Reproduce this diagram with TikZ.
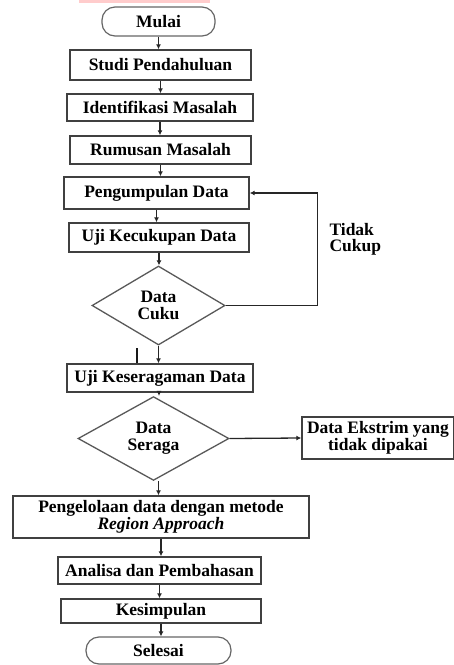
\documentclass[tikz,border=0pt]{standalone}
\usepackage{fontspec}
\setmainfont{Liberation Serif}
\usepackage{tikz}
\usepackage{xcolor}
\usetikzlibrary{arrows.meta,positioning,shapes.geometric,calc}

\begin{document}
\begin{tikzpicture}[
    x=1pt, y=-1pt,
    proses/.style={rectangle, draw=black!75, line width=1.4pt, fill=white, inner sep=1pt, align=center, font=\fontsize{17.5}{17}\selectfont\bfseries},
    terminal/.style={rectangle, draw=black!60, line width=1.2pt, rounded corners=13pt, fill=white, align=center, font=\fontsize{17.5}{17}\selectfont\bfseries},
    keputusan/.style={diamond, draw=black!65, line width=1.3pt, fill=white, inner sep=0pt, align=center, font=\fontsize{17.5}{17}\selectfont\bfseries},
    ket/.style={align=left, font=\fontsize{17.5}{16}\selectfont\bfseries},
    arrow/.style={-{Latex[length=5pt,width=5pt]}, line width=1.3pt, draw=black!85}
]
\useasboundingbox (0,0) rectangle (454,665);

% Sisa sorotan di atas
\fill[red!20] (79,0) rectangle (210,2.5);

% Terminal
\node[terminal, minimum width=113pt, minimum height=29pt] (mulai) at (158.5, 21.5) {Mulai};
\node[terminal, minimum width=145pt, minimum height=27pt] (selesai) at (158.5, 650.5) {Selesai};

% Proses
\node[proses, minimum width=181pt, minimum height=30pt] (studi) at (160.5, 65) {Studi Pendahuluan};
\node[proses, minimum width=186pt, minimum height=27pt] (identifikasi) at (160, 107.5) {Identifikasi Masalah};
\node[proses, minimum width=181pt, minimum height=28pt] (rumusan) at (160.5, 150) {Rumusan Masalah};
\node[proses, minimum width=185pt, minimum height=32pt] (kumpul) at (156.5, 193) {Pengumpulan Data};
\node[proses, minimum width=180pt, minimum height=29pt] (ujicukup) at (159, 237.5) {Uji Kecukupan Data};
\node[proses, minimum width=186pt, minimum height=28pt] (ujiseragam) at (160, 378) {Uji Keseragaman Data};
\node[proses, minimum width=152pt, minimum height=42pt] (ekstrim) at (378, 438) {Data Ekstrim yang\\tidak dipakai};
\node[proses, minimum width=296pt, minimum height=42pt] (olah) at (161, 517) {Pengelolaan data dengan metode\\\textit{Region Approach}};
\node[proses, minimum width=203pt, minimum height=27pt] (analisa) at (159.5, 570.5) {Analisa dan Pembahasan};
\node[proses, minimum width=200pt, minimum height=24pt] (simpul) at (161, 611) {Kesimpulan};

% Keputusan
\node[keputusan, minimum width=133pt, minimum height=79pt] (cukup) at (158.5, 305.5) {Data\\Cuku};
\node[keputusan, minimum width=151pt, minimum height=73pt] (seragam) at (153.5, 438.5) {Data\\Seraga};

% Label
\node[ket, anchor=west] (tidakcukup) at (326, 239) {Tidak\\Cukup};

% Connections
\draw[arrow] (mulai.south) -- (mulai.south |- studi.north);
\draw[arrow] (studi.south) -- (studi.south |- identifikasi.north);
\draw[arrow] (identifikasi.south) -- (identifikasi.south |- rumusan.north);
\draw[arrow] (rumusan.south) -- (rumusan.south |- kumpul.north);
\draw[arrow] (kumpul.south) -- (kumpul.south |- ujicukup.north);
\draw[arrow] (ujicukup.south) -- (ujicukup.south |- cukup.north);
\draw[arrow] (cukup.south) -- (cukup.south |- ujiseragam.north);
\draw[arrow] (cukup.east) -- ++(92,0) |- (kumpul.east);
\draw[arrow] ($(ujiseragam.south)+(-1,0)$) -- ($(ujiseragam.south |- seragam.north)+(-1,0)$);
\draw[arrow] (seragam.east) -- (ekstrim.west);
\draw[arrow] ($(seragam.south)+(5,0)$) -- ($(seragam.south |- olah.north)+(5,0)$);
\draw[arrow] (olah.south) -- (olah.south |- analisa.north);
\draw[arrow] (analisa.south) -- (analisa.south |- simpul.north);
\draw[arrow] (simpul.south) -- (simpul.south |- selesai.north);

% Garis lepas
\coordinate (garis) at (137, 348);
\draw[line width=2.2pt, black!90] (garis) -- (garis |- ujiseragam.north);

\end{tikzpicture}
\end{document}
